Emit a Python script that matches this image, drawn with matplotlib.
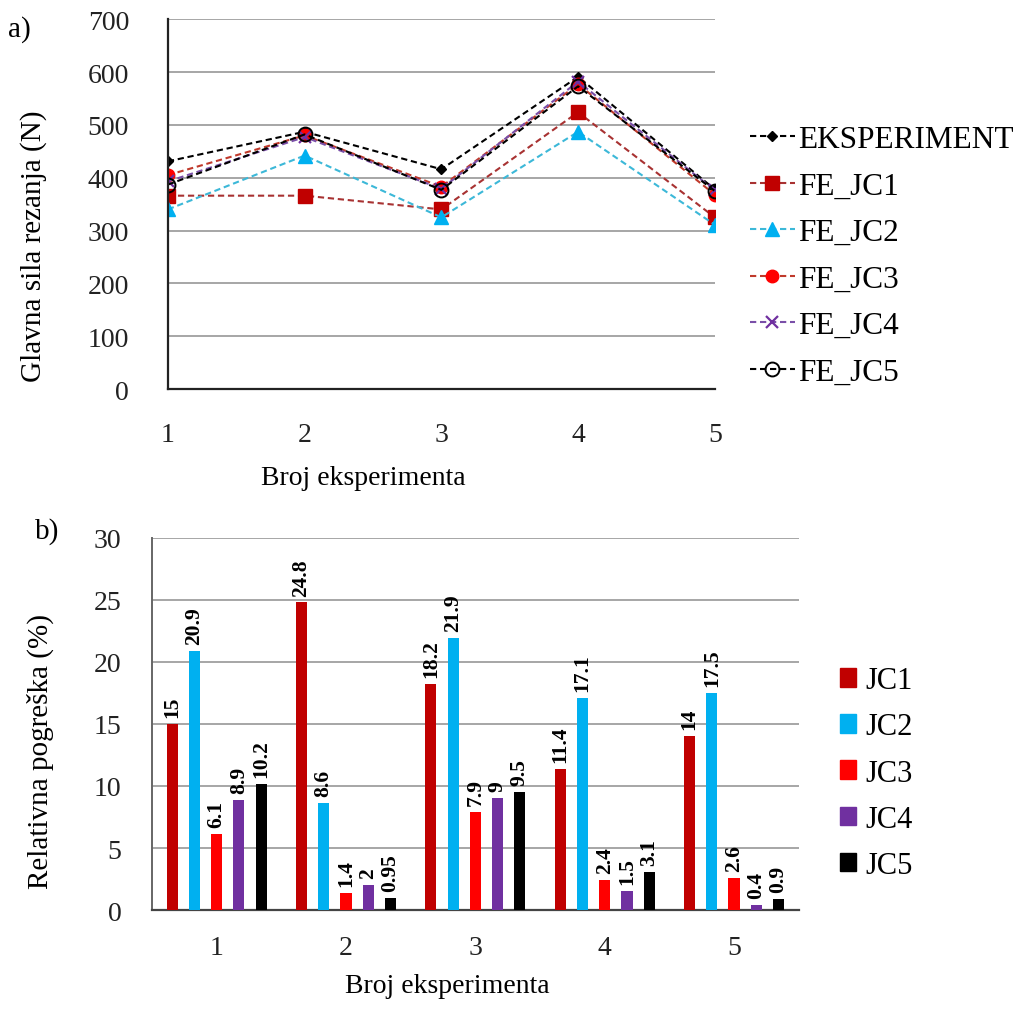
import matplotlib.pyplot as plt
import numpy as np
from matplotlib.patches import Patch

plt.rcParams["font.family"] = ["Liberation Serif", "DejaVu Serif"]

experiments = [1, 2, 3, 4, 5]

# a) main cutting force (N)
force_exp = [431, 487, 416, 591, 378]
force_jc1 = [366, 366, 340, 524, 325]
force_jc2 = [340, 442, 325, 487, 311]
force_jc3 = [405, 480, 383, 577, 368]
force_jc4 = [393, 477, 379, 582, 376]
force_jc5 = [387, 482, 377, 573, 375]

# b) relative error (%)
err_jc1 = [15, 24.8, 18.2, 11.4, 14]
err_jc2 = [20.9, 8.6, 21.9, 17.1, 17.5]
err_jc3 = [6.1, 1.4, 7.9, 2.4, 2.6]
err_jc4 = [8.9, 2, 9, 1.5, 0.4]
err_jc5 = [10.2, 0.95, 9.5, 3.1, 0.9]

DARK_RED = "#c00000"
SKY = "#00b0f0"
RED = "#ff0000"
PURPLE = "#7030a0"
GRID = "#a6a6a6"
DASH = (0, (3, 1.8))

fig = plt.figure(figsize=(10.24, 10.12), dpi=100)

# ---- a) line chart ----
ax1 = fig.add_axes([0.164, 0.6146, 0.534, 0.3654])
series = [
    ("EKSPERIMENT", force_exp, dict(color="black", marker="D", ms=5.5, mfc="black", mec="black")),
    ("FE_JC1", force_jc1, dict(color="#a83232", marker="s", ms=10, mfc=DARK_RED, mec=DARK_RED)),
    ("FE_JC2", force_jc2, dict(color="#3cb8d8", marker="^", ms=10, mfc=SKY, mec=SKY)),
    ("FE_JC3", force_jc3, dict(color="#c0392b", marker="o", ms=9, mfc=RED, mec=RED)),
    ("FE_JC4", force_jc4, dict(color="#7a4fa8", marker="x", ms=8, mfc=PURPLE, mec=PURPLE, mew=1.6)),
    ("FE_JC5", force_jc5, dict(color="black", marker="o", ms=10, mfc="none", mec="black", mew=1.4)),
]
for label, vals, style in series:
    ax1.plot(experiments, vals, linestyle=DASH, lw=1.5, label=label, **style)

ax1.set_xlim(1, 5)
ax1.set_ylim(0, 700)
ax1.set_yticks(range(0, 701, 100))
ax1.set_xticks(experiments)
ax1.grid(axis="y", color=GRID, lw=1.4)
ax1.set_axisbelow(True)
for side in ["top", "right"]:
    ax1.spines[side].set_visible(False)
ax1.spines["left"].set_color("#222222")
ax1.spines["bottom"].set_color("#222222")
ax1.spines["left"].set_linewidth(1.6)
ax1.spines["bottom"].set_linewidth(1.6)
ax1.tick_params(length=0, labelsize=20, colors="#222222")
ax1.tick_params(axis="y", pad=28)
ax1.tick_params(axis="x", pad=24)
ax1.set_xlabel("Broj eksperimenta", fontsize=20)
ax1.xaxis.set_label_coords(0.357, -0.205)
ax1.set_ylabel("Glavna sila rezanja (N)", fontsize=21)
ax1.yaxis.set_label_coords(-0.222, 0.39)
fig.legend(loc="center left", bbox_to_anchor=(0.72, 1 - 257 / 1012), frameon=False,
           fontsize=22.5, handlelength=1.45, handletextpad=0.1, labelspacing=0.56,
           borderaxespad=0)
fig.text(0.008, 0.964, "a)", fontsize=21)

# ---- b) bar chart ----
ax2 = fig.add_axes([0.1484, 0.0998, 0.6316, 0.3676])
x = np.arange(len(experiments))
step = 0.172
width = 0.086
bar_series = [("JC1", err_jc1, DARK_RED), ("JC2", err_jc2, SKY), ("JC3", err_jc3, RED),
              ("JC4", err_jc4, PURPLE), ("JC5", err_jc5, "black")]
for i, (label, vals, color) in enumerate(bar_series):
    pos = x + (i - 2) * step
    ax2.bar(pos, vals, width=width, color=color, label=label, zorder=3)
    for px, v in zip(pos, vals):
        ax2.annotate(f"{v:g}", (px, v), xytext=(0, 5), textcoords="offset points",
                     rotation=90, ha="center", va="bottom", fontsize=15.5,
                     fontweight="bold")

ax2.set_xlim(-0.5, 4.5)
ax2.set_ylim(0, 30)
ax2.set_yticks(range(0, 31, 5))
ax2.set_xticks(x)
ax2.set_xticklabels([str(e) for e in experiments])
ax2.grid(axis="y", color=GRID, lw=1.4)
ax2.set_axisbelow(True)
for side in ["top", "right"]:
    ax2.spines[side].set_visible(False)
ax2.spines["left"].set_color("#666666")
ax2.spines["bottom"].set_color("#444444")
ax2.spines["left"].set_linewidth(1.4)
ax2.spines["bottom"].set_linewidth(1.6)
ax2.tick_params(length=0, labelsize=20, colors="#222222")
ax2.tick_params(axis="y", pad=22)
ax2.tick_params(axis="x", pad=18)
ax2.set_xlabel("Broj eksperimenta", fontsize=20)
ax2.xaxis.set_label_coords(0.457, -0.17)
ax2.set_ylabel("Relativna pogreška (%)", fontsize=21)
ax2.yaxis.set_label_coords(-0.152, 0.43)
handles = [Patch(color=c) for _, _, c in bar_series]
fig.legend(handles, [s[0] for s in bar_series], loc="center left",
           bbox_to_anchor=(0.808, 1 - 774 / 1012), frameon=False, fontsize=22,
           handlelength=0.55, handleheight=0.55, handletextpad=0.3,
           labelspacing=0.56, borderaxespad=0)
fig.text(0.034, 0.468, "b)", fontsize=21)

fig.savefig("out.png", dpi=100)
